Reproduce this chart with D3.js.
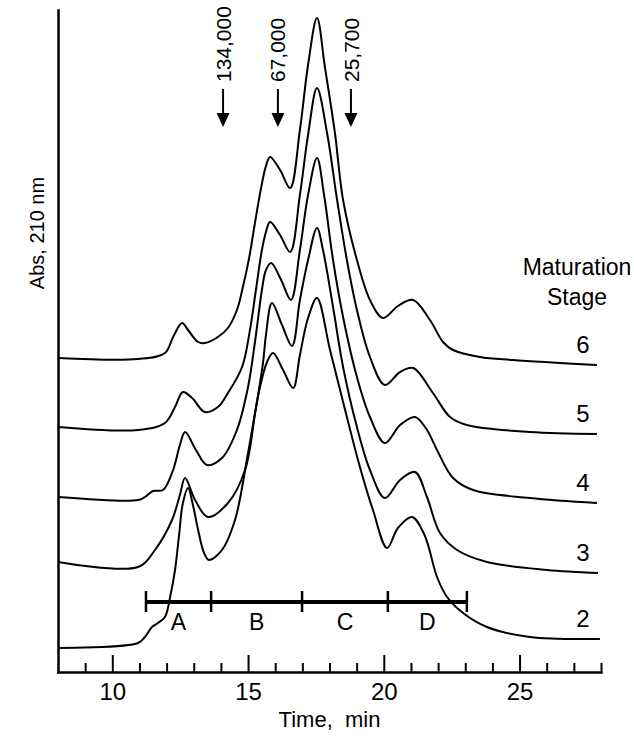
<!DOCTYPE html>
<html>
<head>
<meta charset="utf-8">
<script src="https://cdn.jsdelivr.net/npm/d3@7"></script>
<style>
  body { margin: 0; background: #fff; }
  svg { display: block; font-family: "Liberation Sans", Arial, Helvetica, sans-serif; }
</style>
</head>
<body>
<svg id="chart" width="634" height="736"></svg>
<script>
// Elution profiles [time (min), absorbance (rel. units)]
const stage6 = [[8.00,31.4],[10.95,31.3],[11.94,31.9],[12.24,33.5],[12.57,34.9],[12.79,34.2],[13.16,33.0],[13.41,32.9],[13.89,33.5],[14.26,34.4],[14.59,36.2],[14.81,38.5],[15.04,41.4],[15.26,45.0],[15.48,48.4],[15.66,50.6],[15.81,51.5],[16.18,50.2],[16.55,48.4],[16.91,54.2],[17.21,60.7],[17.54,65.4],[17.83,60.5],[18.20,53.9],[18.50,47.2],[19.01,41.2],[19.49,37.2],[19.97,35.4],[20.52,36.6],[21.08,37.2],[21.70,35.2],[22.18,33.0],[22.55,32.2],[23.54,31.5],[24.76,31.2],[27.85,30.7]];
const stage5 = [[8.00,24.5],[10.95,24.2],[11.94,24.9],[12.31,26.5],[12.60,28.0],[12.94,27.4],[13.41,26.0],[13.89,26.5],[14.26,27.9],[14.78,30.5],[15.07,34.2],[15.29,38.2],[15.51,42.2],[15.66,44.0],[15.81,45.0],[16.18,43.7],[16.55,42.0],[16.91,47.7],[17.21,53.7],[17.54,58.4],[17.91,53.9],[18.28,47.2],[18.64,41.2],[19.01,36.2],[19.49,31.5],[20.04,28.7],[20.60,30.0],[21.08,30.4],[21.81,27.9],[22.44,25.5],[23.06,24.7],[25.38,24.0],[27.85,23.8]];
const stage4 = [[8.00,17.5],[10.95,17.2],[11.20,17.5],[11.50,18.1],[11.87,18.2],[12.24,20.2],[12.49,22.7],[12.68,24.0],[13.08,22.2],[13.49,20.7],[14.04,21.4],[14.59,24.2],[15.00,28.5],[15.29,33.7],[15.51,38.2],[15.66,40.2],[15.85,40.9],[16.22,39.2],[16.58,37.2],[16.91,42.2],[17.21,47.7],[17.54,51.4],[17.80,47.7],[18.13,41.2],[18.50,35.5],[19.01,29.5],[19.49,25.5],[20.04,22.9],[20.60,24.7],[21.15,25.5],[21.59,24.2],[21.96,22.2],[22.55,19.4],[23.29,18.2],[25.38,17.4],[27.85,16.9]];
const stage3 = [[8.00,11.0],[10.95,10.5],[11.57,12.2],[12.20,15.2],[12.49,17.7],[12.68,19.4],[13.05,17.2],[13.52,15.5],[14.26,16.9],[14.89,20.2],[15.26,25.9],[15.55,30.9],[15.66,33.7],[15.88,36.9],[16.25,34.7],[16.62,32.6],[16.91,37.2],[17.21,41.2],[17.54,44.4],[17.76,42.2],[18.13,36.5],[18.50,30.5],[19.01,24.5],[19.49,20.2],[20.04,17.4],[20.60,19.2],[21.15,20.0],[21.59,17.5],[22.07,13.9],[22.70,12.2],[23.80,11.0],[26.01,10.2],[27.89,9.9]];
const stage2 = [[8.00,2.4],[10.95,2.9],[11.20,3.5],[11.46,4.5],[11.68,4.9],[11.94,5.5],[12.13,7.5],[12.31,10.2],[12.46,13.7],[12.60,16.9],[12.79,18.4],[12.97,16.7],[13.16,14.2],[13.38,11.9],[13.56,11.2],[14.04,12.2],[14.52,15.2],[15.00,21.9],[15.44,28.5],[15.70,31.0],[15.92,31.9],[16.29,30.2],[16.66,28.4],[16.91,31.7],[17.21,35.4],[17.54,37.4],[18.02,32.2],[18.64,25.5],[19.12,20.5],[19.60,16.2],[20.12,12.4],[20.52,14.4],[21.04,15.5],[21.50,13.7],[21.96,9.5],[22.33,7.5],[22.92,5.9],[23.80,4.5],[25.38,3.5],[27.96,3.3]];

const stageNames = ["6", "5", "4", "3", "2"];
const stageData = [stage6, stage5, stage4, stage3, stage2];

// molecular weight standards
const markerTimes = [14.08, 16.10, 18.79];
const markerLabels = ["134,000", "67,000", "25,700"];

// pooled fractions
const fractionBounds = [11.24, 13.64, 16.99, 20.15, 23.06];
const fractionNames = ["A", "B", "C", "D"];

const majorTicks = [10, 15, 20, 25];
const minorTicks = [9, 11, 12, 13, 14, 16, 17, 18, 19, 21, 22, 23, 24, 26, 27, 28];

const svg = d3.select("#chart");

const xScale = d3.scaleLinear().domain([8, 28]).range([58, 601]);
const yScale = d3.scaleLinear().domain([0, 66.2]).range([672, 10]);

// Axes
const minorAxis = d3.axisBottom(xScale)
  .tickValues(minorTicks)
  .tickSize(-9)
  .tickSizeOuter(0)
  .tickFormat("");
const majorAxis = d3.axisBottom(xScale)
  .tickValues(majorTicks)
  .tickSize(-17)
  .tickSizeOuter(0)
  .tickPadding(11)
  .tickFormat(d3.format("d"));

svg.append("g")
    .attr("class", "axis-minor")
    .attr("transform", `translate(0,${yScale(0)})`)
    .call(minorAxis)
    .call(g => g.select(".domain").remove());

svg.append("g")
    .attr("class", "axis-x")
    .attr("transform", `translate(0,${yScale(0)})`)
    .call(majorAxis);

svg.append("g")
    .attr("class", "axis-y")
    .attr("transform", `translate(${xScale(8)},0)`)
    .call(d3.axisLeft(yScale).tickValues([]).tickSizeOuter(0));

svg.selectAll(".domain")
    .attr("stroke", "#000")
    .attr("stroke-width", 2.5)
    .attr("stroke-linecap", "square");
svg.selectAll(".tick line")
    .attr("stroke", "#000")
    .attr("stroke-width", 2);
svg.selectAll(".axis-x text")
    .attr("fill", "#000")
    .style("font-size", "24px")
    .style("font-family", null);

// Axis titles
svg.append("text")
    .attr("x", (xScale(8) + xScale(28)) / 2)
    .attr("y", 727)
    .attr("text-anchor", "middle")
    .attr("xml:space", "preserve")
    .style("font-size", "22px")
    .text("Time,  min");

svg.append("text")
    .attr("transform", "translate(37,233) rotate(-90)")
    .attr("text-anchor", "middle")
    .attr("dy", "0.35em")
    .style("font-size", "20px")
    .text("Abs, 210 nm");

// Traces
const curveGenerator = d3.line()
  .x(d => xScale(d[0]))
  .y(d => yScale(d[1]))
  .curve(d3.curveCatmullRom.alpha(0.5));

svg.append("g")
    .attr("class", "traces")
  .selectAll("path")
  .data(stageData)
  .join("path")
    .attr("d", curveGenerator)
    .attr("fill", "none")
    .attr("stroke", "#000")
    .attr("stroke-width", 2);

// Stage labels
svg.append("g")
  .selectAll("text")
  .data(stageData)
  .join("text")
    .attr("x", 583)
    .attr("y", d => yScale(d[d.length - 1][1]) - 12)
    .attr("text-anchor", "middle")
    .style("font-size", "24px")
    .text((d, i) => stageNames[i]);

svg.append("text")
    .attr("x", 577)
    .attr("y", 275)
    .attr("text-anchor", "middle")
    .style("font-size", "23px")
    .text("Maturation");
svg.append("text")
    .attr("x", 577)
    .attr("y", 305)
    .attr("text-anchor", "middle")
    .style("font-size", "23px")
    .text("Stage");

// MW marker arrows
const arrows = svg.append("g")
  .selectAll("g")
  .data(markerTimes)
  .join("g")
    .attr("transform", d => `translate(${xScale(d)},0)`);

arrows.append("line")
    .attr("y1", 89)
    .attr("y2", 114)
    .attr("stroke", "#000")
    .attr("stroke-width", 2);
arrows.append("path")
    .attr("d", "M-6.5,113L6.5,113L0,127Z")
    .attr("fill", "#000");
arrows.append("text")
    .attr("transform", "translate(0,82) rotate(-90)")
    .attr("dy", "0.36em")
    .style("font-size", "21px")
    .text((d, i) => markerLabels[i]);

// Fraction bar
const barY = 602;
svg.append("line")
    .attr("x1", xScale(fractionBounds[0]))
    .attr("x2", xScale(fractionBounds[fractionBounds.length - 1]))
    .attr("y1", barY)
    .attr("y2", barY)
    .attr("stroke", "#000")
    .attr("stroke-width", 4);

svg.append("g")
  .selectAll("line")
  .data(fractionBounds)
  .join("line")
    .attr("x1", d => xScale(d))
    .attr("x2", d => xScale(d))
    .attr("y1", barY - 11)
    .attr("y2", barY + 10)
    .attr("stroke", "#000")
    .attr("stroke-width", 2.5);

svg.append("g")
  .selectAll("text")
  .data(fractionNames)
  .join("text")
    .attr("x", (d, i) => xScale((fractionBounds[i] + fractionBounds[i + 1]) / 2))
    .attr("y", 630)
    .attr("text-anchor", "middle")
    .style("font-size", "23px")
    .text(d => d);
</script>
</body>
</html>
